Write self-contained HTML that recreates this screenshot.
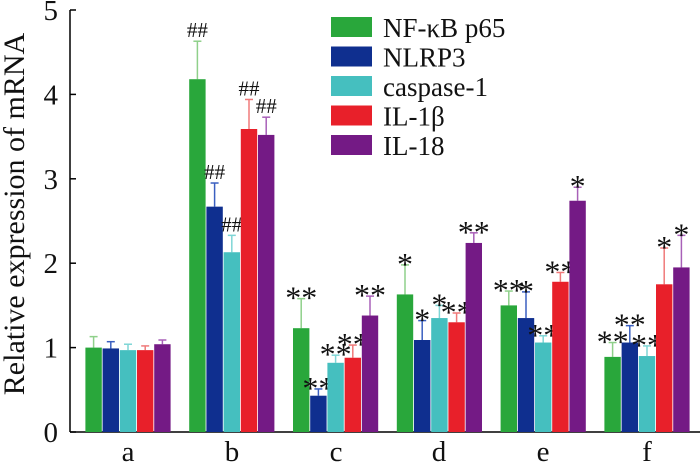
<!DOCTYPE html>
<html><head><meta charset="utf-8"><style>
body{margin:0;background:#fff}
</style></head><body>
<svg id="chart" width="700" height="462" viewBox="0 0 700 462" xmlns="http://www.w3.org/2000/svg">
<g id="axes">
<line x1="70" y1="432" x2="700" y2="432" stroke="#000" stroke-width="1.5"/>
<line x1="70" y1="432" x2="70" y2="10" stroke="#000" stroke-width="1.5"/>
<g stroke="#000" stroke-width="1.5">
<line x1="70" y1="432" x2="76" y2="432"/><line x1="70" y1="347.6" x2="76" y2="347.6"/><line x1="70" y1="263.2" x2="76" y2="263.2"/><line x1="70" y1="178.8" x2="76" y2="178.8"/><line x1="70" y1="94.4" x2="76" y2="94.4"/><line x1="70" y1="10" x2="76" y2="10"/>
</g>
<g>
<text style="font-family:'Liberation Serif',serif;font-size:29px;text-anchor:end;fill:#111" x="58" y="442">0</text>
<text style="font-family:'Liberation Serif',serif;font-size:29px;text-anchor:end;fill:#111" x="58" y="357.6">1</text>
<text style="font-family:'Liberation Serif',serif;font-size:29px;text-anchor:end;fill:#111" x="58" y="273.2">2</text>
<text style="font-family:'Liberation Serif',serif;font-size:29px;text-anchor:end;fill:#111" x="58" y="188.8">3</text>
<text style="font-family:'Liberation Serif',serif;font-size:29px;text-anchor:end;fill:#111" x="58" y="104.4">4</text>
<text style="font-family:'Liberation Serif',serif;font-size:29px;text-anchor:end;fill:#111" x="58" y="20">5</text>
</g>
<g>
<text style="font-family:'Liberation Serif',serif;font-size:29px;text-anchor:middle;fill:#111" x="128" y="461">a</text>
<text style="font-family:'Liberation Serif',serif;font-size:29px;text-anchor:middle;fill:#111" x="232" y="461">b</text>
<text style="font-family:'Liberation Serif',serif;font-size:29px;text-anchor:middle;fill:#111" x="336" y="461">c</text>
<text style="font-family:'Liberation Serif',serif;font-size:29px;text-anchor:middle;fill:#111" x="439" y="461">d</text>
<text style="font-family:'Liberation Serif',serif;font-size:29px;text-anchor:middle;fill:#111" x="543" y="461">e</text>
<text style="font-family:'Liberation Serif',serif;font-size:29px;text-anchor:middle;fill:#111" x="647" y="461">f</text>
</g>
</g>
<g id="bars"></g>
<g id="legend">
<rect x="331" y="17" width="41" height="20" fill="#29a73b"/>
<rect x="331" y="46.5" width="41" height="20" fill="#0f2f8f"/>
<rect x="331" y="76" width="41" height="20" fill="#45bfbf"/>
<rect x="331" y="105.5" width="41" height="20" fill="#e8202a"/>
<rect x="331" y="135" width="41" height="20" fill="#741a85"/>
<text style="font-family:'Liberation Serif',serif;font-size:27px;fill:#111" x="383" y="37">NF-κB p65</text>
<text style="font-family:'Liberation Serif',serif;font-size:27px;fill:#111" x="383" y="66.5">NLRP3</text>
<text style="font-family:'Liberation Serif',serif;font-size:27px;fill:#111" x="383" y="96">caspase-1</text>
<text style="font-family:'Liberation Serif',serif;font-size:27px;fill:#111" x="383" y="125.5">IL-1β</text>
<text style="font-family:'Liberation Serif',serif;font-size:27px;fill:#111" x="383" y="155">IL-18</text>
</g>
<text transform="translate(24,214) rotate(-90)" style="font-size:30px;font-family:'Liberation Serif',serif;text-anchor:middle;fill:#111">Relative expression of mRNA</text>
</svg>
<script>
const categories=["a","b","c","d","e","f"];
const nfkb=[1.00,4.18,1.23,1.63,1.50,0.89];
const nlrp3=[0.99,2.67,0.43,1.09,1.35,1.06];
const casp1=[0.97,2.13,0.82,1.35,1.06,0.90];
const il1b=[0.97,3.59,0.88,1.30,1.78,1.75];
const il18=[1.04,3.52,1.38,2.24,2.74,1.95];
const nfkbErr=[0.13,0.45,0.35,0.35,0.17,0.17];
const nlrp3Err=[0.08,0.28,0.08,0.23,0.31,0.20];
const casp1Err=[0.07,0.20,0.09,0.15,0.08,0.12];
const il1bErr=[0.05,0.35,0.15,0.11,0.11,0.43];
const il18Err=[0.05,0.21,0.23,0.12,0.16,0.38];
const nfkbSig=["","##","**","*","**","**"];
const nlrp3Sig=["","##","**","*","*","**"];
const casp1Sig=["","##","**","*","**","**"];
const il1bSig=["","##","**","**","**","*"];
const il18Sig=["","##","**","**","*","*"];
const colors=["#29a73b","#0f2f8f","#45bfbf","#e8202a","#741a85"];
const errColors=["#8fd08a","#3a5fc0","#7fd6d6","#f07a7a","#a860b8"];
const values=[nfkb,nlrp3,casp1,il1b,il18];
const errs=[nfkbErr,nlrp3Err,casp1Err,il1bErr,il18Err];
const sigs=[nfkbSig,nlrp3Sig,casp1Sig,il1bSig,il18Sig];
const NS="http://www.w3.org/2000/svg";
const y0=432,pxPerUnit=84.4,groupStart=85,groupStep=103.8,barW=17.2;
const yS=v=>y0-v*pxPerUnit;
const xS=(g,s)=>groupStart+g*groupStep+s*barW;
function mk(tag,attrs,parent){const e=document.createElementNS(NS,tag);for(const k in attrs)e.setAttribute(k,attrs[k]);parent.appendChild(e);return e;}
const bars=document.getElementById('bars');
values.forEach((arr,s)=>{
  arr.forEach((v,g)=>{
    const x=xS(g,s),cx=x+barW/2;
    const top=v+errs[s][g];
    const e=mk('line',{x1:cx,y1:yS(v),x2:cx,y2:yS(top),stroke:errColors[s],'stroke-width':1.5},bars);
    
    
    const cap=mk('line',{x1:cx-4,y1:yS(top),x2:cx+4,y2:yS(top),stroke:errColors[s],'stroke-width':1.5},bars);
    
    
    const r=mk('rect',{x:x+0.4,y:yS(v),width:barW-0.8,height:y0-yS(v),fill:colors[s]},bars);
    
    
    if(sigs[s][g]){
      const star=sigs[s][g][0]==='*';
      const t=mk('text',{x:cx,y:yS(top)-4+(star?14:0),style:"font-family:'Liberation Serif',serif;text-anchor:middle;fill:#111;font-size:"+(star?32:21)+"px"},bars);
      t.textContent=sigs[s][g];
      
      
    }
  });
});
</script>
</body></html>
